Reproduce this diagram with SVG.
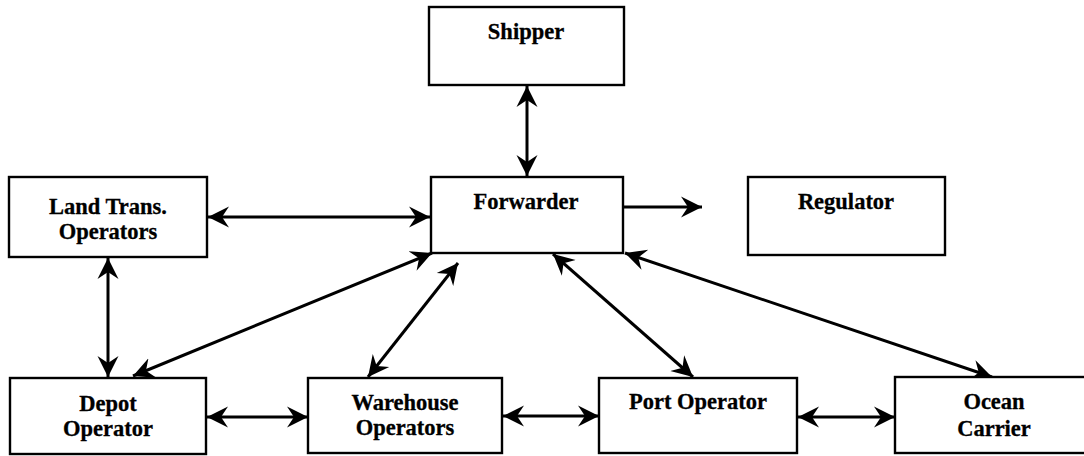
<svg xmlns="http://www.w3.org/2000/svg" width="1084" height="456" viewBox="0 0 1084 456">
<style>
.box{fill:#fff;stroke:#000;stroke-width:2.4}
.lbl{font-family:'Liberation Serif','Times New Roman',Times,serif;font-weight:700;font-size:22.5px;fill:#000;text-anchor:middle;stroke:#000;stroke-width:0.3}
.con{stroke:#000;stroke-width:3;fill:none}
.dbl{marker-start:url(#ah);marker-end:url(#ah)}
.sgl{marker-end:url(#ah)}
</style>
<defs>
<marker id="ah" markerUnits="userSpaceOnUse" viewBox="0 -12 24 24" refX="21" refY="0" markerWidth="24" markerHeight="24" orient="auto-start-reverse">
<path d="M0,-10.5 L21,0 L0,10.5 L7,0 Z" fill="#000"/>
</marker>
</defs>
<rect width="1084" height="456" fill="#fff"/>
<g id="connectors">
<line class="con dbl" x1="527" y1="86" x2="527" y2="176"/>
<line class="con dbl" x1="208" y1="217" x2="430" y2="217"/>
<line class="con sgl" x1="624" y1="207" x2="702" y2="207"/>
<line class="con dbl" x1="108" y1="258" x2="108" y2="377"/>
<line class="con dbl" x1="432" y1="253" x2="133" y2="376"/>
<line class="con dbl" x1="458" y1="263" x2="368" y2="377"/>
<line class="con dbl" x1="553" y1="254" x2="693" y2="377"/>
<line class="con dbl" x1="625" y1="253" x2="992" y2="377"/>
<line class="con dbl" x1="207" y1="417" x2="308" y2="417"/>
<line class="con dbl" x1="503" y1="416" x2="599" y2="416"/>
<line class="con dbl" x1="798" y1="417" x2="895" y2="417"/>
</g>
<g id="shipper">
<rect class="box" x="429" y="7" width="195" height="78"/>
<text class="lbl" x="526" y="39" font-family="Liberation Serif">Shipper</text>
</g>
<g id="forwarder">
<rect class="box" x="431" y="177" width="192" height="76"/>
<text class="lbl" x="526" y="209" font-family="Liberation Serif">Forwarder</text>
</g>
<g id="regulator">
<rect class="box" x="748" y="177" width="197" height="78"/>
<text class="lbl" x="846" y="209" font-family="Liberation Serif">Regulator</text>
</g>
<g id="land-trans">
<rect class="box" x="9" y="177" width="198" height="80"/>
<text class="lbl" x="108" y="214" font-family="Liberation Serif">Land Trans.</text>
<text class="lbl" x="108" y="239" font-family="Liberation Serif">Operators</text>
</g>
<g id="depot">
<rect class="box" x="10" y="378" width="196" height="76"/>
<text class="lbl" x="108" y="411" font-family="Liberation Serif">Depot</text>
<text class="lbl" x="108" y="436" font-family="Liberation Serif">Operator</text>
</g>
<g id="warehouse">
<rect class="box" x="308" y="378" width="194" height="75"/>
<text class="lbl" x="405" y="410" font-family="Liberation Serif">Warehouse</text>
<text class="lbl" x="405" y="435" font-family="Liberation Serif">Operators</text>
</g>
<g id="port">
<rect class="box" x="599" y="378" width="198" height="75"/>
<text class="lbl" x="698" y="409" font-family="Liberation Serif">Port Operator</text>
</g>
<g id="ocean">
<rect class="box" x="895" y="377" width="198" height="76"/>
<text class="lbl" x="994" y="409" font-family="Liberation Serif">Ocean</text>
<text class="lbl" x="994" y="436" font-family="Liberation Serif">Carrier</text>
</g>
</svg>
